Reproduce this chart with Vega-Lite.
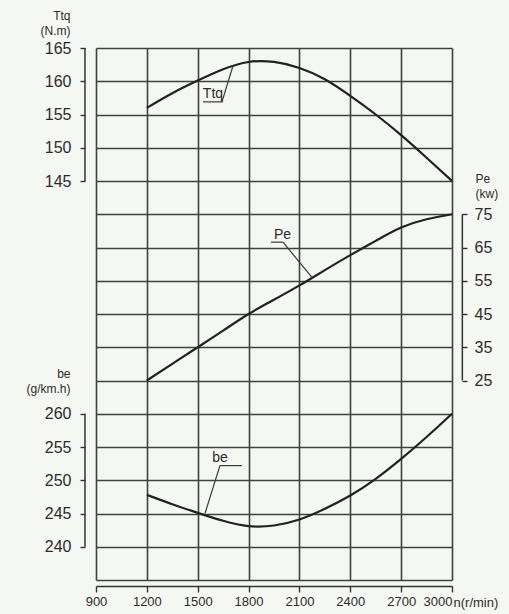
{
  "$schema": "https://vega.github.io/schema/vega-lite/v6.json",
  "width": 356,
  "height": 532,
  "autosize": {"type": "none"},
  "padding": {"left": 96, "top": 48, "right": 57, "bottom": 34},
  "background": "#f5f7f2",
  "config": {
    "view": {"stroke": null},
    "font": "Liberation Sans",
    "axis": {"labelColor": "#2b2b2b", "titleColor": "#2b2b2b", "titleFontWeight": "normal", "tickColor": "#333333", "tickWidth": 1.4}
  },
  "datasets": {
    "curves": [
      {"n": 1200, "Ttq": 156.0, "Pe": 25.0, "be": 247.8},
      {"n": 1350, "Ttq": 158.2, "Pe": 30.0, "be": 246.4},
      {"n": 1500, "Ttq": 160.1, "Pe": 35.0, "be": 245.1},
      {"n": 1650, "Ttq": 161.8, "Pe": 40.0, "be": 243.9},
      {"n": 1800, "Ttq": 162.9, "Pe": 45.0, "be": 243.1},
      {"n": 1950, "Ttq": 162.9, "Pe": 49.3, "be": 243.2},
      {"n": 2100, "Ttq": 162.0, "Pe": 53.6, "be": 244.1},
      {"n": 2250, "Ttq": 160.3, "Pe": 58.2, "be": 245.7},
      {"n": 2400, "Ttq": 157.8, "Pe": 62.7, "be": 247.7},
      {"n": 2550, "Ttq": 155.0, "Pe": 67.0, "be": 250.2},
      {"n": 2700, "Ttq": 151.9, "Pe": 71.0, "be": 253.2},
      {"n": 2850, "Ttq": 148.5, "Pe": 73.5, "be": 256.5},
      {"n": 3000, "Ttq": 145.0, "Pe": 75.0, "be": 260.0}
    ]
  },
  "encoding": {
    "x": {
      "field": "n",
      "type": "quantitative",
      "scale": {"domain": [900, 3000], "nice": false, "zero": false},
      "axis": {
        "values": [900, 1200, 1500, 1800, 2100, 2400, 2700, 3000],
        "format": "d",
        "grid": true,
        "gridColor": "#404040",
        "gridWidth": 1.6,
        "offset": 6,
        "domain": true,
        "domainColor": "#333333",
        "domainWidth": 1.5,
        "tickSize": 6,
        "labelFontSize": 13,
        "labelPadding": 3,
        "labelAlign": {"condition": {"test": "datum.value == 3000", "value": "right"}, "value": "center"},
        "title": "n(r/min)",
        "titleFontSize": 13,
        "titleAlign": "left",
        "titleBaseline": "alphabetic",
        "titleAnchor": "start",
        "titleX": 357,
        "titleY": 20
      }
    }
  },
  "layer": [
    {
      "data": {"name": "curves"},
      "mark": {"type": "line", "interpolate": "natural", "color": "#222222", "strokeWidth": 2.2},
      "encoding": {
        "y": {
          "field": "Ttq",
          "type": "quantitative",
          "scale": {"domain": [85, 165], "nice": false, "zero": false},
          "axis": {
            "orient": "left",
            "offset": 11,
            "values": [85, 90, 95, 100, 105, 110, 115, 120, 125, 130, 135, 140, 145, 150, 155, 160, 165],
            "grid": true,
            "gridColor": "#404040",
            "gridWidth": 1.6,
            "domain": false,
            "tickSize": 5,
            "tickOpacity": {"condition": {"test": "datum.value >= 145", "value": 1}, "value": 0},
            "labelExpr": "datum.value >= 145 ? datum.label : ''",
            "labelFontSize": 16,
            "labelPadding": 9,
            "title": ["Ttq", "(N.m)"],
            "titleAngle": 0,
            "titleAlign": "right",
            "titleBaseline": "alphabetic",
            "titleFontSize": 12,
            "titleLineHeight": 15,
            "titleX": -15,
            "titleY": -29
          }
        }
      }
    },
    {
      "data": {"name": "curves"},
      "mark": {"type": "line", "interpolate": "natural", "color": "#222222", "strokeWidth": 2.2},
      "encoding": {
        "y": {
          "field": "Pe",
          "type": "quantitative",
          "scale": {"domain": [-35, 125], "nice": false, "zero": false},
          "axis": {
            "orient": "right",
            "offset": 10,
            "values": [25, 35, 45, 55, 65, 75],
            "grid": false,
            "domain": false,
            "tickSize": 5,
            "labelFontSize": 16,
            "labelPadding": 7,
            "title": ["Pe", "(kw)"],
            "titleAngle": 0,
            "titleAlign": "left",
            "titleBaseline": "alphabetic",
            "titleFontSize": 12,
            "titleLineHeight": 15,
            "titleX": 13,
            "titleY": 134
          }
        }
      }
    },
    {
      "data": {"name": "curves"},
      "mark": {"type": "line", "interpolate": "natural", "color": "#222222", "strokeWidth": 2.2},
      "encoding": {
        "y": {
          "field": "be",
          "type": "quantitative",
          "scale": {"domain": [235, 315], "nice": false, "zero": false},
          "axis": {
            "orient": "left",
            "offset": 11,
            "values": [240, 245, 250, 255, 260],
            "grid": false,
            "domain": false,
            "tickSize": 5,
            "labelFontSize": 16,
            "labelPadding": 9,
            "title": ["be", "(g/km.h)"],
            "titleAngle": 0,
            "titleAlign": "right",
            "titleBaseline": "alphabetic",
            "titleFontSize": 12,
            "titleLineHeight": 15,
            "titleX": -15,
            "titleY": 329
          }
        }
      }
    },
    {
      "data": {"values": [{"n": 835, "lo": 145, "hi": 165}]},
      "mark": {"type": "rule", "color": "#333333", "strokeWidth": 1.5},
      "encoding": {
        "y": {"field": "lo", "type": "quantitative", "scale": {"domain": [85, 165], "nice": false, "zero": false}, "axis": null},
        "y2": {"field": "hi"}
      }
    },
    {
      "data": {"values": [
        {"n": 1531, "n2": 1649, "v": 156.9, "v2": 156.9},
        {"n": 1643, "n2": 1708, "v": 156.9, "v2": 162.3}
      ]},
      "mark": {"type": "rule", "color": "#3a3a3a", "strokeWidth": 1.2},
      "encoding": {
        "x2": {"field": "n2"},
        "y": {"field": "v", "type": "quantitative", "scale": {"domain": [85, 165], "nice": false, "zero": false}, "axis": null},
        "y2": {"field": "v2"}
      }
    },
    {
      "data": {"values": [{"n": 1590, "v": 157.5, "label": "Ttq"}]},
      "mark": {"type": "text", "fontSize": 14, "color": "#2b2b2b", "baseline": "alphabetic", "align": "center"},
      "encoding": {
        "y": {"field": "v", "type": "quantitative", "scale": {"domain": [85, 165], "nice": false, "zero": false}, "axis": null},
        "text": {"field": "label"}
      }
    },
    {
      "data": {"values": [{"n": 3061, "lo": 25, "hi": 75}]},
      "mark": {"type": "rule", "color": "#333333", "strokeWidth": 1.5},
      "encoding": {
        "y": {"field": "lo", "type": "quantitative", "scale": {"domain": [-35, 125], "nice": false, "zero": false}, "axis": null},
        "y2": {"field": "hi"}
      }
    },
    {
      "data": {"values": [
        {"n": 1932, "n2": 2003, "v": 66.6, "v2": 66.6},
        {"n": 2003, "n2": 2174, "v": 66.6, "v2": 56.0}
      ]},
      "mark": {"type": "rule", "color": "#3a3a3a", "strokeWidth": 1.2},
      "encoding": {
        "x2": {"field": "n2"},
        "y": {"field": "v", "type": "quantitative", "scale": {"domain": [-35, 125], "nice": false, "zero": false}, "axis": null},
        "y2": {"field": "v2"}
      }
    },
    {
      "data": {"values": [{"n": 2000, "v": 67.5, "label": "Pe"}]},
      "mark": {"type": "text", "fontSize": 14, "color": "#2b2b2b", "baseline": "alphabetic", "align": "center"},
      "encoding": {
        "y": {"field": "v", "type": "quantitative", "scale": {"domain": [-35, 125], "nice": false, "zero": false}, "axis": null},
        "text": {"field": "label"}
      }
    },
    {
      "data": {"values": [{"n": 835, "lo": 240, "hi": 260}]},
      "mark": {"type": "rule", "color": "#333333", "strokeWidth": 1.5},
      "encoding": {
        "y": {"field": "lo", "type": "quantitative", "scale": {"domain": [235, 315], "nice": false, "zero": false}, "axis": null},
        "y2": {"field": "hi"}
      }
    },
    {
      "data": {"values": [
        {"n": 1631, "n2": 1761, "v": 252.2, "v2": 252.2},
        {"n": 1631, "n2": 1543, "v": 252.2, "v2": 245.0}
      ]},
      "mark": {"type": "rule", "color": "#3a3a3a", "strokeWidth": 1.2},
      "encoding": {
        "x2": {"field": "n2"},
        "y": {"field": "v", "type": "quantitative", "scale": {"domain": [235, 315], "nice": false, "zero": false}, "axis": null},
        "y2": {"field": "v2"}
      }
    },
    {
      "data": {"values": [{"n": 1631, "v": 252.8, "label": "be"}]},
      "mark": {"type": "text", "fontSize": 14, "color": "#2b2b2b", "baseline": "alphabetic", "align": "center"},
      "encoding": {
        "y": {"field": "v", "type": "quantitative", "scale": {"domain": [235, 315], "nice": false, "zero": false}, "axis": null},
        "text": {"field": "label"}
      }
    }
  ],
  "resolve": {"scale": {"y": "independent"}}
}
